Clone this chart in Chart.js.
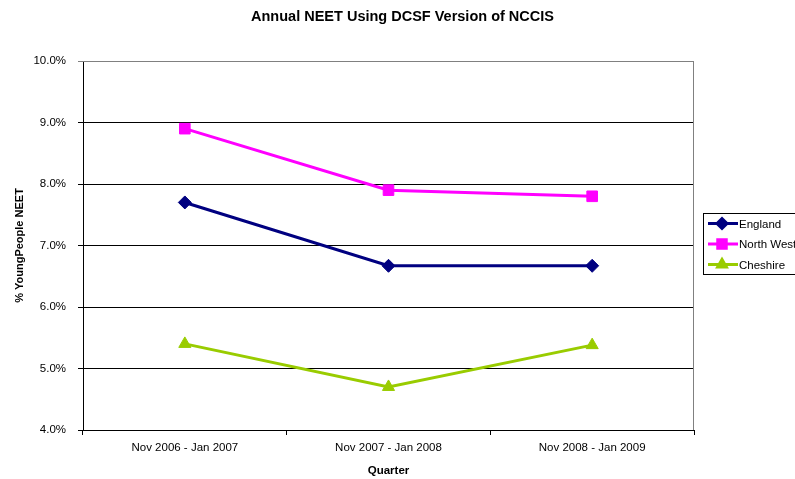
<!DOCTYPE html>
<html>
<head>
<meta charset="utf-8">
<title>Annual NEET</title>
<script src="https://cdn.jsdelivr.net/npm/chart.js@4/dist/chart.umd.min.js"></script>
<style>
  html, body { margin: 0; padding: 0; background: #fff; }
  #chart { display: block; }
</style>
</head>
<body>
<canvas id="chart" width="795" height="479"></canvas>
<script>
const quarters = ["Nov 2006 - Jan 2007", "Nov 2007 - Jan 2008", "Nov 2008 - Jan 2009"];
const england = [7.7, 6.67, 6.67];
const northWest = [8.9, 7.9, 7.8];
const cheshire = [5.4, 4.7, 5.38];
const seriesNames = ["England", "North West", "Cheshire"];
const chartTitle = "Annual NEET Using DCSF Version of NCCIS";

const font = "'Liberation Sans', Arial, sans-serif";

// title centred on the whole picture, not only on the plot + axis block
const titleText = {
  id: "titleText",
  afterDraw(chart) {
    const ctx = chart.ctx;
    ctx.save();
    ctx.fillStyle = "#000";
    ctx.font = "bold 14.5px " + font;
    ctx.textAlign = "center";
    ctx.textBaseline = "middle";
    ctx.fillText(chartTitle, 402.5, 17);
    ctx.restore();
  }
};

// grey frame on the top and right of the plot, like the Excel original
const frame = {
  id: "frame",
  afterDraw(chart) {
    const a = chart.chartArea, ctx = chart.ctx;
    ctx.save();
    ctx.strokeStyle = "#808080";
    ctx.lineWidth = 1;
    ctx.beginPath();
    ctx.moveTo(a.left, a.top + 0.5);
    ctx.lineTo(a.right - 0.5, a.top + 0.5);
    ctx.lineTo(a.right - 0.5, a.bottom);
    ctx.stroke();
    ctx.restore();
  }
};

// boxed legend on the right, clipped by the canvas edge
const boxLegend = {
  id: "boxLegend",
  afterDraw(chart) {
    const ctx = chart.ctx;
    const x0 = 703, y0 = 213, h = 61;
    ctx.save();
    ctx.fillStyle = "#fff";
    ctx.fillRect(x0, y0, 100, h);
    ctx.strokeStyle = "#000";
    ctx.lineWidth = 1;
    ctx.strokeRect(x0 + 0.5, y0 + 0.5, 100, h);
    chart.data.datasets.forEach((ds, i) => {
      const y = y0 + 10.5 + i * 20.5;
      ctx.strokeStyle = ds.borderColor;
      ctx.lineWidth = 3;
      ctx.beginPath();
      ctx.moveTo(708, y);
      ctx.lineTo(738, y);
      ctx.stroke();
      Chart.helpers.drawPoint(ctx, {
        pointStyle: ds.pointStyle, radius: ds.pointStyle === "rect" ? 6 : 5, rotation: 0, borderWidth: 1
      }, 722, y);
      ctx.fillStyle = ds.borderColor;
      ctx.fill();
      ctx.fillStyle = "#000";
      ctx.font = "11.5px " + font;
      ctx.textBaseline = "middle";
      ctx.textAlign = "left";
      ctx.fillText(ds.label, 739, y + 1);
    });
    ctx.restore();
  }
};

new Chart(document.getElementById("chart"), {
  type: "line",
  data: {
    labels: quarters,
    datasets: [
      { label: seriesNames[0], data: england, borderColor: "#000080", backgroundColor: "#000080",
        pointStyle: "rectRot", pointRadius: 6.5 },
      { label: seriesNames[1], data: northWest, borderColor: "#FF00FF", backgroundColor: "#FF00FF",
        pointStyle: "rect", pointRadius: 7.5 },
      { label: seriesNames[2], data: cheshire, borderColor: "#99CC00", backgroundColor: "#99CC00",
        pointStyle: "triangle", pointRadius: 7 }
    ].map(d => Object.assign(d, { borderWidth: 3, tension: 0, fill: false, pointBorderWidth: 1 }))
  },
  options: {
    responsive: false,
    animation: false,
    layout: { padding: { left: 0, right: 101, top: 61, bottom: 0 } },
    plugins: {
      legend: { display: false },
      tooltip: { enabled: false },
      title: { display: false }
    },
    scales: {
      x: {
        offset: true,
        grid: { offset: true, drawOnChartArea: false, drawTicks: true, tickLength: 5, color: "#000" },
        border: { color: "#000" },
        ticks: { color: "#000", font: { family: font, size: 11.5 }, padding: 6, maxRotation: 0 },
        title: { display: true, text: "Quarter", color: "#000",
          font: { family: font, size: 11.5, weight: "bold" }, padding: { top: 0, bottom: 1 } },
        afterFit(s) { s.height = 49; }
      },
      y: {
        min: 4, max: 10,
        grid: {
          color: ctx => ctx.tick && ctx.tick.value === 10 ? "#808080" : "#000",
          tickLength: 5
        },
        border: { color: "#000" },
        ticks: {
          stepSize: 1, color: "#000", font: { family: font, size: 11.5 }, padding: 12,
          callback: v => v.toFixed(1) + "%"
        },
        title: { display: true, text: "% YoungPeople NEET", color: "#000",
          font: { family: font, size: 11, weight: "bold" }, padding: { top: 13, bottom: 0 } },
        afterFit(s) { s.width = 83; }
      }
    }
  },
  plugins: [titleText, frame, boxLegend]
});
</script>
</body>
</html>
